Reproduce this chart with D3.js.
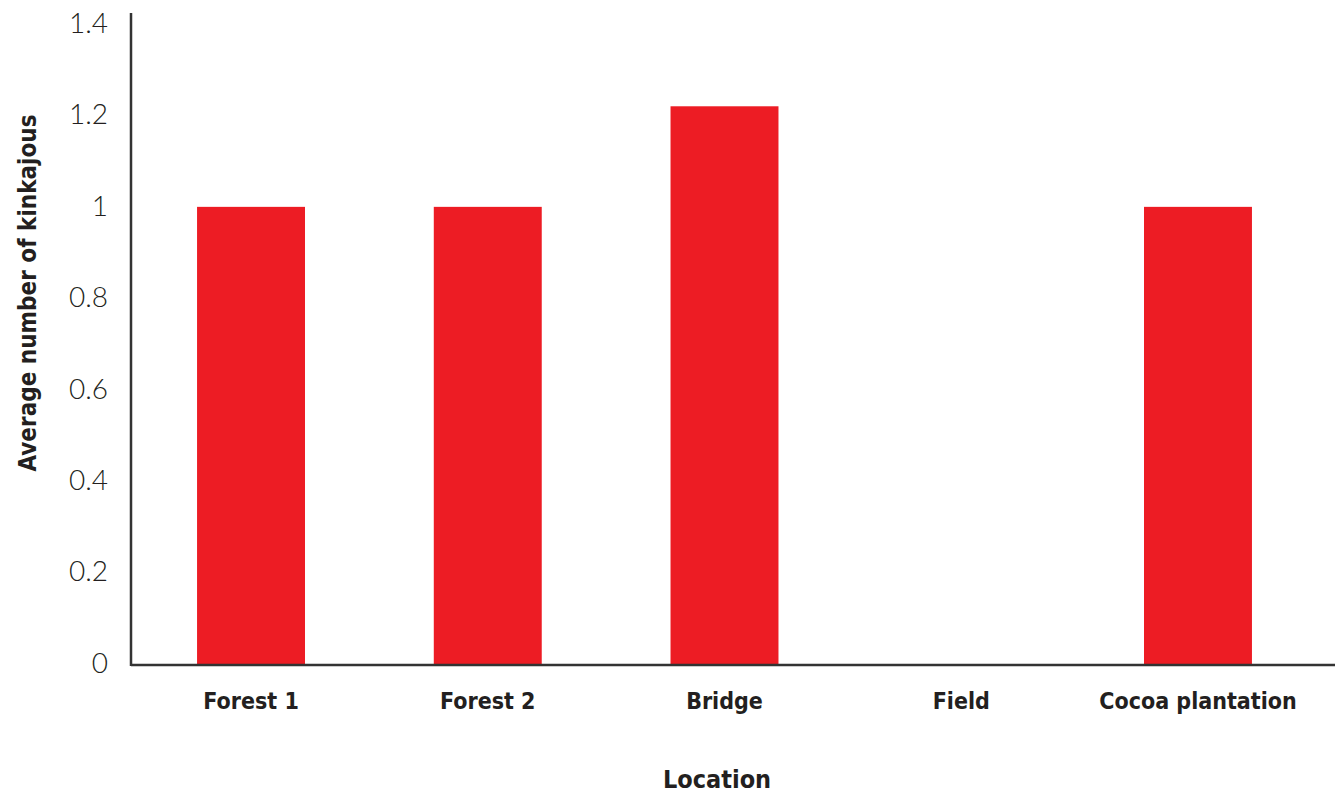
<!DOCTYPE html>
<html>
<head>
<meta charset="utf-8">
<script src="https://cdn.jsdelivr.net/npm/d3@7"></script>
<style>
  html, body { margin: 0; padding: 0; background: #fff; }
  svg { display: block; }
  .tick-label { font-family: Lato, "Open Sans", sans-serif; font-weight: 300; font-size: 28px; fill: #231f20; }
  .cat-label, .axis-title { font-family: "Liberation Sans Narrow", "DejaVu Sans Condensed", sans-serif; font-weight: bold; fill: #231f20; }
</style>
</head>
<body>
<svg id="chart"></svg>
<script>
// data
const locations = ["Forest 1", "Forest 2", "Bridge", "Field", "Cocoa plantation"];
const avgKinkajous = [1, 1, 1.22, 0, 1];
const yTicks = [0, 0.2, 0.4, 0.6, 0.8, 1, 1.2, 1.4];

const width = 1335, height = 794;
const svg = d3.select("#chart").attr("width", width).attr("height", height);

const axisX = 131, baseY = 665, topY = 13;

var x = d3.scaleBand()
    .domain(locations)
    .range([axisX, 1318])
    .paddingInner(0.544)
    .paddingOuter(0.279);

var y = d3.scaleLinear()
    .domain([0, 1.4])
    .range([664, 24]);

// bars
svg.append("g")
    .selectAll("rect")
    .data(locations.map((loc, i) => ({ loc: loc, value: avgKinkajous[i] })))
    .join("rect")
    .attr("x", d => x(d.loc))
    .attr("width", x.bandwidth())
    .attr("y", d => y(d.value))
    .attr("height", d => y(0) - y(d.value))
    .attr("fill", "#ed1c24");

// y axis ticks (labels only)
var yAxis = svg.append("g")
    .attr("transform", `translate(${axisX},0)`)
    .call(d3.axisLeft(y).tickValues(yTicks).tickSize(0).tickPadding(23).tickFormat(d3.format("")));
yAxis.select(".domain").remove();
yAxis.selectAll("text")
    .attr("class", "tick-label")
    .attr("font-size", null)
    .attr("font-family", null)
    .attr("dy", "0.3em");

// x axis labels
var xAxis = svg.append("g")
    .attr("transform", `translate(0,${baseY})`)
    .call(d3.axisBottom(x).tickSize(0).tickPadding(0));
xAxis.select(".domain").remove();
xAxis.selectAll("text")
    .attr("class", "cat-label")
    .attr("font-size", null)
    .attr("font-family", null)
    .style("font-size", "23px")
    .attr("y", 44)
    .attr("dy", 0);

// axis lines
svg.append("line")
    .attr("x1", axisX).attr("x2", axisX)
    .attr("y1", topY).attr("y2", baseY + 1)
    .attr("stroke", "#333").attr("stroke-width", 2.5);
svg.append("line")
    .attr("x1", axisX).attr("x2", width)
    .attr("y1", baseY).attr("y2", baseY)
    .attr("stroke", "#333").attr("stroke-width", 2.5);

// axis titles
svg.append("text")
    .attr("class", "axis-title")
    .attr("x", 717)
    .attr("y", 788)
    .attr("text-anchor", "middle")
    .style("font-size", "25px")
    .text("Location");

svg.append("text")
    .attr("class", "axis-title")
    .attr("transform", "translate(36,293) rotate(-90)")
    .attr("text-anchor", "middle")
    .style("font-size", "24px")
    .text("Average number of kinkajous");
</script>
</body>
</html>
